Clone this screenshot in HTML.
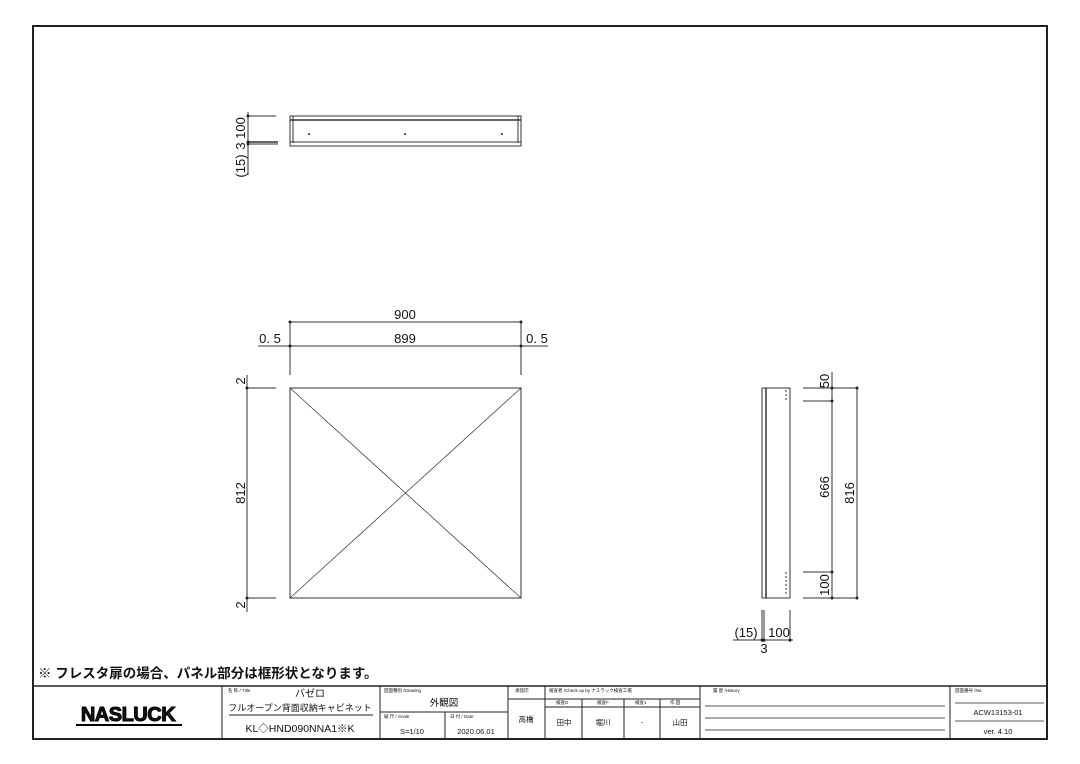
<!DOCTYPE html>
<html><head><meta charset="utf-8"><style>
html,body{margin:0;padding:0;background:#fff;}
svg{display:block;}
text{font-family:"Liberation Sans","Noto Sans CJK JP",sans-serif;fill:#111;}
</style></head><body>
<svg width="1080" height="764" viewBox="0 0 1080 764" xmlns="http://www.w3.org/2000/svg">
<rect x="33" y="26" width="1014" height="713" fill="none" stroke="#222" stroke-width="2"/>

<!-- top view -->
<g stroke="#333" fill="none" stroke-width="1">
<rect x="290" y="116" width="231" height="30"/>
<line x1="290" y1="120" x2="521" y2="120" stroke-width="1.5"/>
<line x1="293" y1="116" x2="293" y2="143"/>
<line x1="518" y1="116" x2="518" y2="143"/>
<line x1="290" y1="142" x2="521" y2="142"/>
<line x1="248" y1="116" x2="276" y2="116"/>
<line x1="248" y1="142" x2="278" y2="142" stroke-width="1.5"/>
<line x1="248" y1="144" x2="278" y2="144"/>
<line x1="248" y1="112" x2="248" y2="175"/>
</g>
<g fill="#222"><circle cx="248" cy="116" r="1.5"/><circle cx="248" cy="142" r="1.5"/><circle cx="248" cy="144" r="1.5"/>
<circle cx="309" cy="134" r="1"/><circle cx="405" cy="134" r="1"/><circle cx="502" cy="134" r="1"/></g>
<text transform="translate(245,128) rotate(-90)" font-size="13" text-anchor="middle">100</text>
<text transform="translate(245,146) rotate(-90)" font-size="13" text-anchor="middle">3</text>
<text transform="translate(245,166) rotate(-90)" font-size="13" text-anchor="middle">(15)</text>

<!-- front view -->
<g stroke="#333" fill="none" stroke-width="1">
<rect x="290" y="388" width="231" height="210"/>
<line x1="290" y1="388" x2="521" y2="598" stroke-width="0.7"/>
<line x1="521" y1="388" x2="290" y2="598" stroke-width="0.7"/>
<line x1="290" y1="322" x2="521" y2="322"/>
<line x1="258" y1="346" x2="548" y2="346"/>
<line x1="290" y1="322" x2="290" y2="375"/>
<line x1="521" y1="322" x2="521" y2="375"/>
<line x1="247" y1="388" x2="276" y2="388"/>
<line x1="247" y1="598" x2="276" y2="598"/>
<line x1="247" y1="375" x2="247" y2="612"/>
</g>
<g fill="#222"><circle cx="290" cy="322" r="1.5"/><circle cx="521" cy="322" r="1.5"/><circle cx="290" cy="346" r="1.5"/><circle cx="521" cy="346" r="1.5"/><circle cx="247" cy="388" r="1.5"/><circle cx="247" cy="598" r="1.5"/></g>
<text x="405" y="319" font-size="13" text-anchor="middle">900</text>
<text x="405" y="343" font-size="13" text-anchor="middle">899</text>
<text x="270" y="343" font-size="13" text-anchor="middle">0. 5</text>
<text x="537" y="343" font-size="13" text-anchor="middle">0. 5</text>
<text transform="translate(245,381) rotate(-90)" font-size="13" text-anchor="middle">2</text>
<text transform="translate(245,493) rotate(-90)" font-size="13" text-anchor="middle">812</text>
<text transform="translate(245,605) rotate(-90)" font-size="13" text-anchor="middle">2</text>

<!-- side view -->
<g stroke="#333" fill="none" stroke-width="1">
<rect x="762" y="388" width="28" height="210"/>
<line x1="766" y1="388" x2="766" y2="598" stroke-width="1.5"/>
<line x1="786" y1="390" x2="786" y2="401" stroke-dasharray="2,2"/>
<line x1="786" y1="572" x2="786" y2="596" stroke-dasharray="2,2"/>
<line x1="803" y1="388" x2="857" y2="388"/>
<line x1="803" y1="401" x2="832" y2="401"/>
<line x1="803" y1="572" x2="832" y2="572"/>
<line x1="803" y1="598" x2="857" y2="598"/>
<line x1="832" y1="372" x2="832" y2="598"/>
<line x1="857" y1="388" x2="857" y2="598"/>
<line x1="762" y1="610" x2="762" y2="642"/>
<line x1="764" y1="610" x2="764" y2="642"/>
<line x1="790" y1="610" x2="790" y2="642"/>
<line x1="733" y1="640" x2="793" y2="640"/>
</g>
<g fill="#222"><circle cx="832" cy="388" r="1.5"/><circle cx="832" cy="401" r="1.5"/><circle cx="832" cy="572" r="1.5"/><circle cx="832" cy="598" r="1.5"/><circle cx="857" cy="388" r="1.5"/><circle cx="857" cy="598" r="1.5"/><circle cx="762" cy="640" r="1.5"/><circle cx="764" cy="640" r="1.5"/><circle cx="790" cy="640" r="1.5"/></g>
<text transform="translate(829,381) rotate(-90)" font-size="13" text-anchor="middle">50</text>
<text transform="translate(829,487) rotate(-90)" font-size="13" text-anchor="middle">666</text>
<text transform="translate(829,585) rotate(-90)" font-size="13" text-anchor="middle">100</text>
<text transform="translate(854,493) rotate(-90)" font-size="13" text-anchor="middle">816</text>
<text x="746" y="637" font-size="13" text-anchor="middle">(15)</text>
<text x="779" y="637" font-size="13" text-anchor="middle">100</text>
<text x="764" y="653" font-size="13" text-anchor="middle">3</text>

<!-- note -->
<text x="38" y="678" font-size="13.5" font-weight="bold">※ フレスタ扉の場合、パネル部分は框形状となります。</text>

<!-- title block -->
<g stroke="#222" fill="none" stroke-width="1">
<line x1="33" y1="686" x2="1047" y2="686" stroke-width="1.5"/>
<line x1="222" y1="686" x2="222" y2="739"/>
<line x1="380" y1="686" x2="380" y2="739"/>
<line x1="508" y1="686" x2="508" y2="739"/>
<line x1="545" y1="686" x2="545" y2="739"/>
<line x1="700" y1="686" x2="700" y2="739"/>
<line x1="950" y1="686" x2="950" y2="739"/>
<line x1="229" y1="715" x2="373" y2="715"/>
<line x1="380" y1="712" x2="508" y2="712"/>
<line x1="445" y1="712" x2="445" y2="739"/>
<line x1="508" y1="699" x2="545" y2="699"/>
<line x1="545" y1="699" x2="700" y2="699"/>
<line x1="545" y1="707" x2="700" y2="707"/>
<line x1="582" y1="699" x2="582" y2="739"/>
<line x1="624" y1="699" x2="624" y2="739"/>
<line x1="660" y1="699" x2="660" y2="739"/>
<line x1="705" y1="706" x2="945" y2="706" stroke-width="0.7"/>
<line x1="705" y1="718" x2="945" y2="718" stroke-width="0.7"/>
<line x1="705" y1="730" x2="945" y2="730" stroke-width="0.7"/>
<line x1="955" y1="703" x2="1044" y2="703" stroke-width="0.7"/>
<line x1="955" y1="721" x2="1044" y2="721" stroke-width="0.7"/>
</g>
<text x="128" y="721" font-size="20" font-weight="900" text-anchor="middle" letter-spacing="-0.5" stroke="#000" stroke-width="1">NASLUCK</text>
<line x1="76" y1="725" x2="182" y2="725" stroke="#000" stroke-width="2"/>
<g font-size="4.5"><text x="228" y="692">名 称 / Title</text><text x="384" y="692">図面種別 /Drawing</text><text x="515" y="692">承認印</text><text x="549" y="692">検査者 /Check up by ナスラック検査工場</text><text x="713" y="692">履 歴 /History</text><text x="955" y="692">図面番号 /No.</text>
<text x="384" y="718">縮 尺 / Scale</text><text x="450" y="718">日 付 / Date</text>
<text x="556" y="704">検査D</text><text x="597" y="704">検査F</text><text x="635" y="704">検査1</text><text x="670" y="704">作 図</text></g>
<text x="310" y="697" font-size="10" text-anchor="middle">バゼロ</text>
<text x="300" y="711" font-size="9" text-anchor="middle">フルオープン背面収納キャビネット</text>
<text x="300" y="732" font-size="10.5" text-anchor="middle">KL◇HND090NNA1※K</text>
<text x="444" y="706" font-size="9.5" text-anchor="middle">外観図</text>
<text x="412" y="734" font-size="7.5" text-anchor="middle">S=1/10</text>
<text x="476" y="734" font-size="7.5" text-anchor="middle">2020.06.01</text>
<text x="526" y="722" font-size="7.5" text-anchor="middle">高橋</text>
<text x="564" y="725" font-size="7.5" text-anchor="middle">田中</text>
<text x="603" y="725" font-size="7.5" text-anchor="middle">堀川</text>
<text x="642" y="725" font-size="7.5" text-anchor="middle">-</text>
<text x="680" y="725" font-size="7.5" text-anchor="middle">山田</text>
<text x="998" y="715" font-size="7.5" text-anchor="middle">ACW13153-01</text>
<text x="998" y="734" font-size="7.5" text-anchor="middle">ver. 4.10</text>
</svg>
</body></html>
